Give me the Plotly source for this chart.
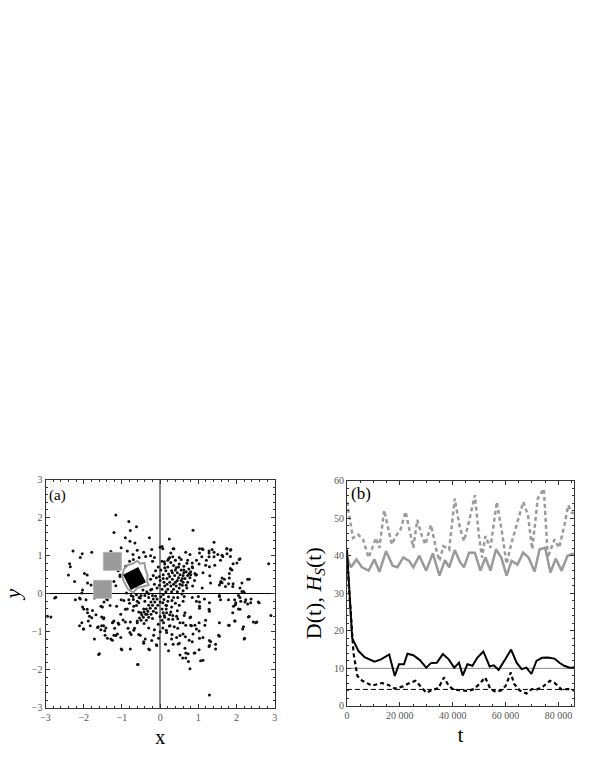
import plotly.graph_objects as go

# ---- panel (a): scattered points -------------------------------------------
pts_outer = [
    (-1.16, 2.07), (-0.82, 1.90), (-1.21, 1.61), (-0.62, 1.76), (-0.78, 1.66),
    (-0.91, 1.47), (-0.79, 1.38), (-0.66, 1.33), (-0.28, 1.47), (0.24, 1.44),
    (0.86, 1.67), (-1.02, 1.21), (-0.86, 1.12), (-0.71, 1.03), (-0.60, 1.14),
    (-0.43, 1.09), (-0.22, 1.16), (0.0, 1.22), (0.07, 1.18), (0.36, 1.18),
    (0.28, 1.07), (-1.29, 1.11), (-1.79, 1.09), (-2.04, 1.05), (-2.28, 1.12),
    (-2.09, 0.95), (-2.37, 0.79), (-2.35, 0.71), (-2.40, 0.49), (-1.98, 0.53),
    (-1.91, 0.49), (-2.24, 0.32), (-1.90, 0.28), (-2.03, 0.10), (-1.81, 0.23),
    (-1.59, 0.26), (-1.21, 0.32), (-1.16, 0.21), (-1.08, 0.78), (-1.05, 0.49),
    (1.03, 1.18), (1.12, 1.16), (1.28, 1.07), (1.36, 1.16), (1.41, 1.35),
    (1.51, 1.03), (1.64, 0.98), (1.74, 1.18), (1.85, 1.16), (2.07, 0.90),
    (1.91, 0.79), (1.85, 0.64), (1.81, 0.53), (1.68, 0.38), (1.59, 0.32),
    (1.55, 0.23), (1.21, 0.88), (1.29, 0.71), (1.30, 0.47), (1.12, 0.55),
    (0.95, 0.88), (0.78, 1.03), (0.91, 0.53), (2.14, 0.28), (2.33, 0.38),
    (2.14, 0.06), (2.20, 0.03), (2.84, 0.79), (1.62, 0.29), (1.81, 0.41),
    (1.91, 0.26), (1.90, 0.19), (0.05, 1.24), (0.34, 1.18), (0.67, 1.09),
    (1.10, 1.18), (1.28, 1.12), (1.41, 1.09), (1.75, 1.18), (1.84, 1.14),
    (1.03, 1.07), (1.09, 0.97), (1.28, 0.97), (1.41, 0.97), (1.62, 1.01),
    (1.75, 1.05), (1.84, 0.98), (2.09, 0.92), (2.01, 0.81), (1.58, 0.88),
    (1.43, 0.75), (1.19, 0.75), (1.02, 0.78), (0.84, 0.81), (0.72, 0.88),
    (0.50, 0.95), (0.33, 0.97), (0.22, 0.92), (0.11, 0.84), (1.84, 0.66),
    (1.88, 0.62), (2.29, 0.38), (1.62, 0.41), (1.58, 0.29), (1.79, 0.26),
    (1.32, 0.28), (1.71, 0.19), (2.09, 0.15), (2.18, 0.06), (1.10, 0.15),
    (0.93, 0.49), (0.76, 0.53), (0.84, 0.71),
    (-2.95, -0.59), (-2.76, -0.11), (-2.22, -0.16), (-2.11, -0.11),
    (-2.05, 0.02), (-2.0, -0.40), (-1.90, -0.50), (-1.79, -0.63), (-1.88, -0.72),
    (-2.05, -0.76), (-2.01, -0.93), (-1.83, -0.84), (-1.72, -1.19), (-1.59, -1.58),
    (-1.64, -0.89), (-1.55, -0.95), (-1.48, -0.84), (-1.47, -0.63), (-1.45, -0.97),
    (-1.29, -1.19), (-1.21, -1.09), (-1.12, -1.06), (-1.03, -1.15), (-1.02, -1.45),
    (-0.78, -1.45), (-0.59, -1.86), (-1.25, -0.76), (-1.21, -0.72), (-1.08, -0.80),
    (-0.97, -0.69), (-0.78, -0.74), (-0.60, -0.76), (-0.79, -1.02), (-0.67, -0.91),
    (-0.52, -1.09), (-0.39, -1.19), (-0.30, -1.45), (-0.22, -1.23), (-0.09, -1.36),
    (-1.55, -0.33), (-1.47, -0.22), (-1.38, -0.16), (-1.72, -0.11), (-1.66, 0.02),
    (-1.14, -0.33), (-1.02, -0.16), (-0.91, -0.41), (-1.03, -0.54), (-0.88, 0.02),
    (-0.71, -0.07), (-0.62, -0.03), (-0.52, -0.11), (-0.56, -0.24), (-0.69, -0.33),
    (-0.50, -0.50), (-0.43, -0.40), (-0.34, -0.54),
    (-2.73, -0.09), (-2.86, -0.61), (-2.09, -0.14), (-1.94, -0.16), (-2.03, -0.35),
    (-1.91, -0.41), (-1.77, -0.44), (-1.68, -0.55), (-1.85, -0.59), (-2.11, -0.84),
    (-2.0, -0.93), (-1.62, -0.87), (-1.53, -0.84), (-1.48, -0.66), (-1.53, -0.61),
    (-1.42, -0.90), (-1.44, -1.09), (-1.61, -1.60), (-1.51, -0.35), (-1.40, -0.14),
    (-1.31, -0.31), (-1.23, -0.74), (-1.10, -0.77), (-1.19, -0.91), (-1.38, -1.17),
    (-1.16, -1.10), (-1.25, -1.22), (-1.0, -1.47), (-0.58, -1.86), (-0.91, -0.74),
    (-0.84, -0.91), (-0.69, -0.96), (-0.76, -1.07), (-0.56, -1.07), (-0.43, -1.26),
    (-0.43, -1.30), (-0.28, -1.47), (-0.17, -1.09), (-0.10, -1.34), (-0.04, -1.17),
    (-0.95, -0.18), (-0.82, -0.16), (-0.76, -0.05), (-0.86, -0.40), (-0.71, -0.44),
    (-0.62, -0.31), (-0.56, -0.48),
    (0.17, -1.02), (0.30, -1.19), (0.43, -1.15), (0.60, -1.06), (0.47, -1.32),
    (0.65, -1.43), (0.73, -1.58), (0.67, -1.69), (0.78, -1.97), (0.91, -1.56),
    (1.12, -1.75), (1.29, -1.36), (1.29, -1.23), (1.12, -1.15), (0.95, -0.93),
    (0.82, -0.84), (0.60, -0.76), (0.78, -0.63), (0.65, -0.50), (1.03, -0.33),
    (1.16, -0.14), (1.29, -0.46), (1.55, -0.76), (1.55, -1.12), (1.81, -0.83),
    (1.96, -0.72), (2.16, -0.93), (2.20, -1.19), (2.33, -0.60), (2.50, -0.76),
    (2.59, -0.24), (2.37, -0.24), (2.24, -0.16), (2.11, -0.20), (1.98, -0.24),
    (1.92, -0.33), (2.09, -0.41), (1.90, -0.50), (1.55, -0.07), (1.29, -0.24),
    (0.95, -0.20), (0.33, -0.67), (0.26, -0.84), (0.43, -0.59), (0.09, -0.76),
    (0.17, -0.50), (2.90, -0.57), (1.29, -2.66), (0.52, -0.76), (0.86, -1.06),
    (0.74, -1.78), (1.06, -1.76), (0.59, -1.69), (0.52, -1.61), (0.67, -1.56),
    (0.89, -1.56), (1.02, -1.47), (1.28, -1.39), (1.45, -1.33), (1.45, -1.45),
    (1.32, -1.26), (1.53, -1.09), (0.84, -1.26), (0.76, -1.22), (0.66, -1.13),
    (0.52, -1.10), (0.50, -1.30), (0.34, -1.33), (0.14, -1.33), (0.22, -1.50),
    (0.31, -1.07), (0.16, -0.96), (0.07, -0.90), (0.24, -0.85), (0.37, -0.87),
    (0.46, -0.91), (0.67, -0.83), (0.80, -0.83), (0.91, -0.83), (1.02, -0.76),
    (1.19, -0.70), (1.17, -0.83), (1.02, -0.98), (1.03, -1.17), (0.80, -0.61),
    (0.63, -0.57), (0.46, -0.66), (0.33, -0.57), (0.22, -0.67), (0.11, -0.57),
    (0.16, -0.40), (0.28, -0.48), (0.17, -0.31), (0.07, -0.24), (0.31, -0.18),
    (0.46, -0.10), (0.63, -0.07), (0.84, -0.10), (1.00, -0.07), (1.03, -0.22),
    (1.03, -0.38), (1.28, -0.41), (1.55, -0.05), (1.58, -0.16), (1.79, -0.83),
    (1.95, -0.72), (2.18, -0.87), (2.21, -1.17), (1.97, -0.29), (2.05, -0.40),
    (2.09, -0.10), (2.22, -0.22), (2.38, -0.14), (2.29, -0.27), (2.31, -0.61),
    (2.44, -0.74), (2.53, -0.74), (2.57, -0.22), (2.05, -0.05), (1.79, -0.16),
    (1.95, -0.16), (0.57, -0.01),
]

pts_core = [
    (0.05, 0.85), (0.12, 0.78), (0.2, 0.7), (0.28, 0.82), (0.35, 0.74), (0.42, 0.68),
    (0.5, 0.78), (0.55, 0.62), (0.62, 0.72), (0.68, 0.58), (0.75, 0.65), (0.8, 0.5),
    (0.45, 0.55), (0.38, 0.48), (0.3, 0.6), (0.22, 0.52), (0.15, 0.6), (0.08, 0.5),
    (0.02, 0.62), (-0.05, 0.7), (-0.12, 0.6), (-0.18, 0.48), (-0.25, 0.38),
    (-0.1, 0.42), (0.0, 0.35), (0.1, 0.3), (0.18, 0.4), (0.25, 0.3), (0.32, 0.38),
    (0.4, 0.3), (0.48, 0.42), (0.55, 0.35), (0.6, 0.48), (0.65, 0.4), (0.72, 0.3),
    (0.58, 0.22), (0.5, 0.15), (0.42, 0.2), (0.35, 0.12), (0.28, 0.2), (0.2, 0.12),
    (0.12, 0.2), (0.05, 0.12), (-0.02, 0.22), (-0.08, 0.15), (-0.15, 0.25),
    (-0.22, 0.12), (0.15, 0.05), (0.3, 0.05), (0.45, 0.05), (0.6, 0.08), (0.7, 0.15),
    (0.85, 0.2), (0.9, 0.35), (0.78, 0.42), (0.62, 0.55), (0.4, 0.88), (0.25, 0.95),
    (0.55, 0.9), (0.7, 0.8), (0.85, 0.68), (0.35, 0.25), (0.45, 0.35), (0.52, 0.5),
    (0.6, 0.3), (0.68, 0.22), (0.25, 0.45), (0.18, 0.25), (0.08, 0.4), (-0.02, 0.45),
    (0.32, 0.55), (0.4, 0.62), (0.48, 0.7), (0.12, 0.68), (0.2, 0.88), (0.62, 0.62),
    (0.72, 0.48), (0.8, 0.58), (0.95, 0.5), (0.52, 0.25), (0.58, 0.4),
    (-0.1, -0.5), (0.05, -0.4), (0.1, -0.15), (0.0, -0.6), (-0.2, -0.65),
    (0.05, -0.7), (0.2, -0.2), (0.3, -0.35), (0.4, -0.25), (0.25, -0.55),
    (0.15, -0.3), (-0.05, -0.8), (0.12, -0.62), (-0.3, -0.9), (-0.15, -0.95),
    (0.0, -1.0), (0.08, -0.5), (-0.4, -0.2), (-0.3, -0.1), (-0.2, -0.05),
    (0.35, -0.1), (0.5, -0.3), (0.45, -0.45), (0.6, -0.2), (-0.35, 0.05),
    (-0.45, 0.1), (-0.5, -0.05), (-0.6, -0.2), (0.02, -0.08), (0.08, -0.02),
    (0.22, -0.08), (-0.2, 0.85), (-0.15, 0.95), (-0.25, 1.0), (-0.38, 0.98),
    (-0.55, 0.95), (-0.7, 0.9), (-0.8, 0.85), (-0.9, 0.72), (-1.1, 0.6),
    (-1.05, 0.45), (-0.25, 0.1), (-0.3, 0.0), (-0.4, -0.05), (-0.55, -0.1),
    (-0.7, -0.15), (-0.8, -0.25),
]

pts_streak = [
    (-0.5, -0.7), (-0.44, -0.62), (-0.38, -0.54), (-0.32, -0.46), (-0.26, -0.38),
    (-0.2, -0.3), (-0.14, -0.22), (-0.08, -0.14),
    (-0.42, -0.78), (-0.36, -0.7), (-0.3, -0.62), (-0.24, -0.54), (-0.18, -0.46),
    (-0.12, -0.38), (-0.06, -0.3), (0.0, -0.22),
    (-0.6, -0.72), (-0.54, -0.64), (-0.48, -0.56), (-0.42, -0.48), (-0.36, -0.4),
    (-0.3, -0.3), (-0.24, -0.22), (-0.18, -0.14), (-0.12, -0.06),
]

# gray squares (centres) and black rotated square
sq_x = [-1.25, -1.51]
sq_y = [0.85, 0.115]
blk_x = [-0.67]
blk_y = [0.40]
# gray contour around the black square
ring_x = [-0.95, -0.86, -0.71, -0.60, -0.52, -0.41, -0.39, -0.33, -0.34, -0.30,
          -0.45, -0.60, -0.71, -0.84, -0.95, -0.99, -0.95]
ring_y = [0.64, 0.75, 0.79, 0.86, 0.79, 0.81, 0.66, 0.49, 0.32, 0.23,
          0.19, 0.15, 0.03, 0.12, 0.32, 0.45, 0.64]

# ---- panel (b): time series ------------------------------------------------
t_gd = [0, 2300, 4200, 6100, 8200, 9800, 11000, 12300, 14100, 16000, 17000, 18500,
        20300, 22200, 23800, 25100, 26600, 28400, 29700, 31800, 33800, 35000, 36500,
        38700, 40800, 42700, 44300, 46200, 48400, 49900, 51100, 52400, 54300, 56700,
        58600, 60400, 62300, 64100, 66700, 68500, 70100, 72200, 74500, 76000, 78500,
        80300, 82300, 83700, 85300, 86000]
h_gd = [54.3, 44.7, 45.6, 44.3, 39.5, 42.6, 44.7, 42.1, 52.1, 46.0, 43.0, 45.2,
        47.0, 51.7, 46.5, 42.1, 49.5, 45.2, 43.0, 48.2, 41.6, 38.6, 42.5,
        41.6, 55.2, 47.5, 43.9, 49.1, 56.1, 45.6, 39.5, 45.2, 42.1, 54.3,
        46.5, 37.8, 43.5, 48.2, 54.3, 50.8, 41.7, 55.2, 57.8, 39.5, 44.3,
        42.1, 48.2, 53.4, 51.2, 52.0]

t_gs = [0, 1500, 3600, 5700, 8200, 10400, 12300, 14800, 17300, 19100, 21300, 23500,
        25100, 27400, 30000, 32500, 35000, 37100, 38700, 40800, 42700, 44300, 46200,
        48400, 50500, 52400, 54300, 56400, 58400, 60400, 62300, 64500, 66700, 68700,
        71000, 72900, 75000, 77000, 79000, 81200, 83400, 85300, 86000]
h_gs = [39.5, 36.9, 39.0, 36.9, 36.0, 39.0, 35.7, 41.2, 37.3, 36.9, 39.5, 38.6,
        36.9, 40.0, 36.0, 40.6, 34.7, 38.8, 36.9, 41.5, 38.4, 36.9, 40.8,
        40.8, 36.0, 39.5, 36.0, 41.7, 39.5, 34.7, 38.6, 37.6, 40.8, 39.5,
        35.8, 41.7, 42.1, 35.5, 39.2, 36.0, 39.9, 40.5, 40.4]

t_bs = [0, 2000, 4400, 6700, 10400, 12900, 16000, 18100, 19700, 21600, 22900, 25100,
        27600, 30000, 31800, 34000, 36300, 38500, 40600, 42400, 43800, 45600, 47500,
        49300, 51600, 54000, 55500, 57400, 59900, 62100, 64200, 66100, 67900, 69800,
        71700, 73800, 76000, 78500, 80400, 82200, 84500, 86000]
d_bs = [41.6, 18.0, 14.6, 13.0, 11.8, 12.4, 13.7, 8.0, 11.1, 11.1, 13.9, 13.5,
        12.2, 10.2, 11.4, 11.5, 13.8, 12.4, 10.2, 11.5, 8.1, 11.1, 10.7,
        12.8, 14.5, 10.5, 10.8, 9.6, 12.4, 15.0, 11.5, 9.8, 10.2, 8.5,
        12.0, 12.8, 12.9, 12.6, 11.5, 10.7, 10.1, 10.3]

t_bd = [0, 1500, 2500, 3950, 5800, 9500, 13200, 15700, 18100, 21200, 23100, 25900,
        28000, 30100, 32300, 34600, 36700, 38500, 40400, 42800, 45900, 48100, 50200,
        52300, 54300, 56400, 58300, 60100, 62000, 63200, 65400, 67900, 70000, 71900,
        74300, 76800, 78600, 81100, 83600, 86000]
d_bd = [40.0, 26.0, 14.0, 8.0, 6.7, 5.4, 6.1, 5.6, 4.6, 5.2, 5.9, 6.7,
        5.0, 3.5, 4.3, 4.7, 7.6, 5.4, 4.3, 4.1, 4.0, 4.5, 5.9,
        7.6, 4.5, 3.7, 4.1, 5.4, 8.9, 5.9, 4.1, 3.3, 4.5, 4.4,
        5.2, 6.7, 6.1, 4.4, 4.5, 4.1]

ref_t = [0, 86000]
ref_solid = 10.0
ref_dash = 4.4

ticks_a = [-3, -2, -1, 0, 1, 2, 3]
ticks_by = [0, 10, 20, 30, 40, 50, 60]
ticks_bx = [0, 20000, 40000, 60000, 80000]
ticks_bx_text = ["0", "20 000", "40 000", "60 000", "80 000"]

GRAY = "#9a9a9a"
FONT = "Liberation Serif"

fig = go.Figure()

all_pts = pts_outer + pts_core + pts_streak
fig.add_trace(go.Scatter(
    x=[p[0] for p in all_pts], y=[p[1] for p in all_pts], mode="markers",
    marker=dict(color="#111", size=3), xaxis="x", yaxis="y"))
fig.add_trace(go.Scatter(
    x=sq_x, y=sq_y, mode="markers",
    marker=dict(symbol="square", size=18, color=GRAY,
                line=dict(color="#b5b5b5", width=1)), xaxis="x", yaxis="y"))
fig.add_trace(go.Scatter(
    x=ring_x, y=ring_y, mode="lines", line=dict(color=GRAY, width=2),
    xaxis="x", yaxis="y"))
fig.add_trace(go.Scatter(
    x=blk_x, y=blk_y, mode="markers",
    marker=dict(symbol="square", size=17, color="black", angle=-27),
    xaxis="x", yaxis="y"))

# panel (b)
fig.add_trace(go.Scatter(x=ref_t, y=[ref_solid] * 2, mode="lines",
                         line=dict(color="#8a8a8a", width=1), xaxis="x2", yaxis="y2"))
fig.add_trace(go.Scatter(x=ref_t, y=[ref_dash] * 2, mode="lines",
                         line=dict(color="black", width=1, dash="5px,3px"),
                         xaxis="x2", yaxis="y2"))
fig.add_trace(go.Scatter(x=t_gd, y=h_gd, mode="lines",
                         line=dict(color=GRAY, width=2.5, dash="4px,3px"),
                         xaxis="x2", yaxis="y2"))
fig.add_trace(go.Scatter(x=t_gs, y=h_gs, mode="lines",
                         line=dict(color=GRAY, width=2.5), xaxis="x2", yaxis="y2"))
fig.add_trace(go.Scatter(x=t_bd, y=d_bd, mode="lines",
                         line=dict(color="black", width=2.2, dash="4px,3px"),
                         xaxis="x2", yaxis="y2"))
fig.add_trace(go.Scatter(x=t_bs, y=d_bs, mode="lines",
                         line=dict(color="black", width=2), xaxis="x2", yaxis="y2"))

axis_common = dict(
    showline=True, linecolor="#333", linewidth=1, mirror="allticks",
    ticks="inside", ticklen=4, tickcolor="#333", showgrid=False,
    tickfont=dict(family=FONT, size=10, color="#555"),
)

fig.update_layout(
    width=595, height=770, autosize=False,
    margin=dict(l=0, r=0, t=0, b=0),
    plot_bgcolor="white", paper_bgcolor="white",
    showlegend=False,
    font=dict(family=FONT, color="black"),
    xaxis=dict(domain=[0.0689, 0.4588], range=[-3, 3], tickvals=ticks_a,
               zeroline=True, zerolinecolor="#8a8a8a", zerolinewidth=2,
               minor=dict(ticks="inside", dtick=0.2, ticklen=2, tickcolor="#333"),
               title=dict(text="x", font=dict(size=20, family=FONT), standoff=8),
               anchor="y", **axis_common),
    yaxis=dict(domain=[0.074, 0.3753], range=[-3, 3], tickvals=ticks_a,
               zeroline=True, zerolinecolor="black", zerolinewidth=1,
               minor=dict(ticks="inside", dtick=0.2, ticklen=2, tickcolor="#333"),
               title=dict(text="<i>y</i>", font=dict(size=22, family=FONT), standoff=10),
               anchor="x", **axis_common),
    xaxis2=dict(domain=[0.5815, 0.9681], range=[0, 86000], tickvals=ticks_bx,
                ticktext=ticks_bx_text, zeroline=False,
                minor=dict(ticks="inside", dtick=5000, ticklen=2, tickcolor="#333"),
                title=dict(text="t", font=dict(size=20, family=FONT), standoff=8),
                anchor="y2", **axis_common),
    yaxis2=dict(domain=[0.0766, 0.374], range=[0, 60], tickvals=ticks_by,
                zeroline=False,
                minor=dict(ticks="inside", dtick=2, ticklen=2, tickcolor="#333"),
                title=dict(text="D(t), <i>H</i><sub><i>S</i></sub>(t)",
                           font=dict(size=22, family=FONT), standoff=6),
                anchor="x2", **axis_common),
    annotations=[
        dict(text="(a)", xref="x", yref="y", x=-2.95, y=2.85, xanchor="left",
             yanchor="top", showarrow=False, font=dict(size=15, family=FONT)),
        dict(text="(b)", xref="x2", yref="y2", x=600, y=59.5, xanchor="left",
             yanchor="top", showarrow=False, font=dict(size=17, family=FONT)),
    ],
)

fig.write_html("out.html", config={"displayModeBar": False},
               post_script="document.body.style.margin='0px';")
